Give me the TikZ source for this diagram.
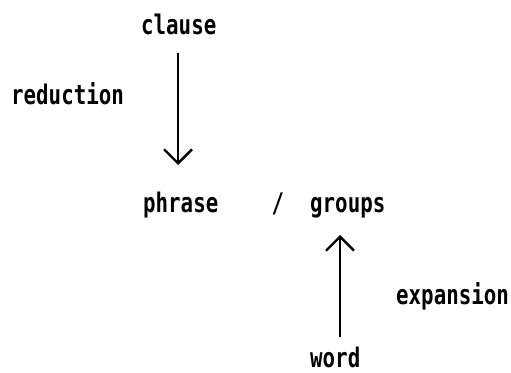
\documentclass[tikz,border=0pt]{standalone}
\usepackage{fontspec}
\newfontfamily\plotfont[FakeStretch=0.77]{DejaVu Sans Mono}
\usetikzlibrary{arrows.meta}
\tikzset{
  word/.style={anchor=base west, inner sep=0pt, font=\plotfont\bfseries\fontsize{27}{30}\selectfont},
  arr/.style={line width=2.4pt, -{Straight Barb[length=14pt,width=28pt]}}
}
\begin{document}
\begin{tikzpicture}[x=1pt,y=1pt]
\useasboundingbox (0,0) rectangle (511,372);
% levels of the hierarchy
\node[word] (clause) at (141,337) {clause};
\node[word] (phrase) at (143,159) {phrase};
\node[word, anchor=base] (slash) at (278,159) {/};
\node[word] (groups) at (310,159) {groups};
\node[word] (wordn) at (310,5) {word};
% side labels
\node[word] (reduction) at (11,267) {reduction};
\node[word] (expansion) at (396,67) {expansion};
% arrows between levels
\draw[arr] ([xshift=37pt,yshift=-18pt]clause.base west) -- ([xshift=35pt,yshift=48pt]phrase.base west);
\draw[arr] ([xshift=30pt,yshift=30pt]wordn.base west) -- ([xshift=30pt,yshift=-22pt]groups.base west);
\end{tikzpicture}
\end{document}
